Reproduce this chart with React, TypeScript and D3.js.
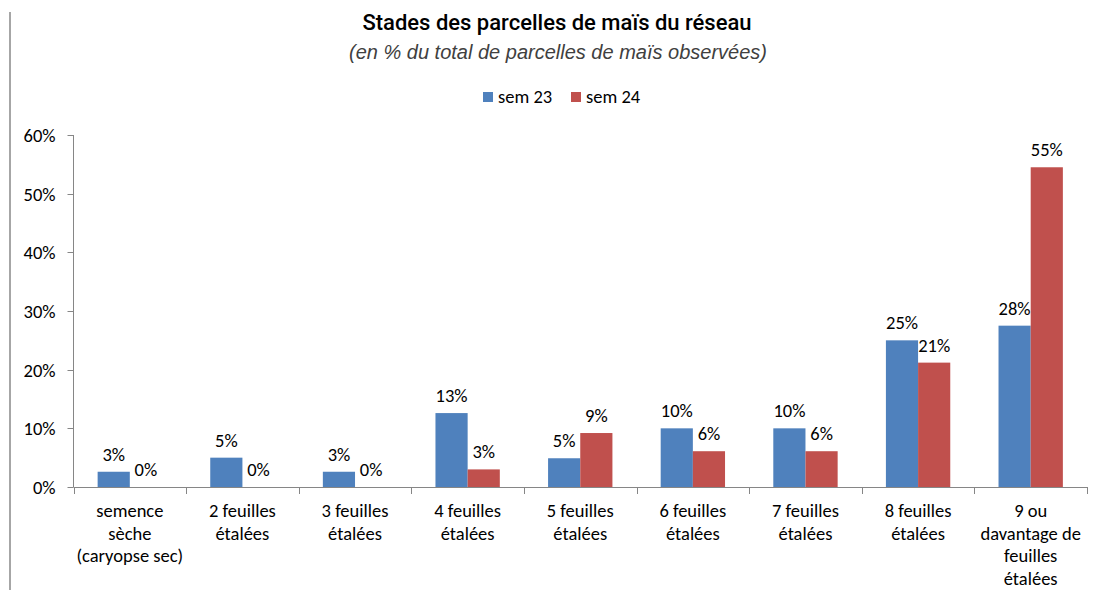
import * as d3 from "d3";

const categories = [
  ["semence", "sèche", "(caryopse sec)"],
  ["2 feuilles", "étalées"],
  ["3 feuilles", "étalées"],
  ["4 feuilles", "étalées"],
  ["5 feuilles", "étalées"],
  ["6 feuilles", "étalées"],
  ["7 feuilles", "étalées"],
  ["8 feuilles", "étalées"],
  ["9 ou", "davantage de", "feuilles", "étalées"],
];
const seriesNames = ["sem 23", "sem 24"];
const sem23 = [0.026, 0.05, 0.026, 0.126, 0.049, 0.1, 0.1, 0.25, 0.275];
const sem24 = [0, 0, 0, 0.03, 0.092, 0.061, 0.061, 0.212, 0.545];
const yTicks = [0, 0.1, 0.2, 0.3, 0.4, 0.5, 0.6];

const COLORS = ["#4F81BD", "#C0504D"];
const W = 1098;
const H = 590;
const PLOT = { left: 73.5, right: 1087, top: 135, bottom: 487 };
const FONT = "Carlito, Calibri, Lato, sans-serif";
const FS = 18.5;

export default function App() {
  const keys = categories.map((_, i) => String(i));
  const x0 = d3.scaleBand().domain(keys).range([PLOT.left, PLOT.right]);
  const x1 = d3
    .scaleBand()
    .domain(seriesNames)
    .range([0, x0.bandwidth()])
    .paddingInner(0)
    .paddingOuter(0.75);
  const y = d3.scaleLinear().domain([0, 0.6]).range([PLOT.bottom, PLOT.top]);
  const pct = d3.format(".0%");
  const values = [sem23, sem24];

  return (
    <svg
      width={W}
      height={H}
      style={{ position: "absolute", left: 0, top: 0, background: "#fff" }}
    >
      {/* left border */}
      <line x1={10} x2={10} y1={12} y2={H} stroke="#a6a6a6" strokeWidth={2} />

      {/* title */}
      <text x={557} y={30} textAnchor="middle" fontFamily="Roboto, sans-serif"
        fontWeight={500} fontSize={22} fill="#000">
        Stades des parcelles de maïs du réseau
      </text>
      <text x={558} y={59} textAnchor="middle" fontFamily="'Liberation Sans', Arial, sans-serif"
        fontStyle="italic" fontSize={20} fill="#404040">
        (en % du total de parcelles de maïs observées)
      </text>

      {/* legend */}
      {seriesNames.map((s, i) => (
        <g key={s} transform={`translate(${483 + i * 88},0)`}>
          <rect x={0} y={92} width={10} height={10} fill={COLORS[i]} />
          <text x={15} y={103} fontFamily={FONT} fontSize={FS} fill="#000">{s}</text>
        </g>
      ))}

      {/* y axis */}
      <line x1={PLOT.left} x2={PLOT.left} y1={PLOT.top} y2={PLOT.bottom} stroke="#868686" />
      {yTicks.map((t) => (
        <g key={t}>
          <line x1={PLOT.left - 6} x2={PLOT.left} y1={Math.round(y(t)) + 0.5} y2={Math.round(y(t)) + 0.5} stroke="#868686" />
          <text x={PLOT.left - 18} y={y(t) + 7} textAnchor="end" fontFamily={FONT} fontSize={FS} fill="#000">
            {pct(t)}
          </text>
        </g>
      ))}

      {/* bars */}
      {keys.map((k, ci) =>
        seriesNames.map((s, si) => {
          const v = values[si][ci];
          const bx = (x0(k) ?? 0) + (x1(s) ?? 0);
          return (
            <g key={k + s}>
              <rect x={bx} y={y(v)} width={x1.bandwidth()} height={PLOT.bottom - y(v)}
                fill={COLORS[si]} />
              <text x={bx + x1.bandwidth() / 2} y={y(v) - 11} textAnchor="middle"
                fontFamily={FONT} fontSize={FS} fill="#000">
                {pct(v)}
              </text>
            </g>
          );
        })
      )}

      {/* x axis */}
      <line x1={PLOT.left} x2={PLOT.right} y1={PLOT.bottom + 0.5} y2={PLOT.bottom + 0.5} stroke="#868686" />
      {[...keys.map((k) => x0(k) ?? 0), PLOT.right].map((tx, i) => (
        <line key={i} x1={Math.round(tx) + 0.5} x2={Math.round(tx) + 0.5} y1={PLOT.bottom} y2={PLOT.bottom + 7} stroke="#868686" />
      ))}
      {categories.map((lines, ci) => (
        <text key={ci} textAnchor="middle" fontFamily={FONT} fontSize={FS} fill="#000">
          {lines.map((l, li) => (
            <tspan key={li} x={(x0(keys[ci]) ?? 0) + x0.bandwidth() / 2} y={517 + li * 22.5}>
              {l}
            </tspan>
          ))}
        </text>
      ))}
    </svg>
  );
}
